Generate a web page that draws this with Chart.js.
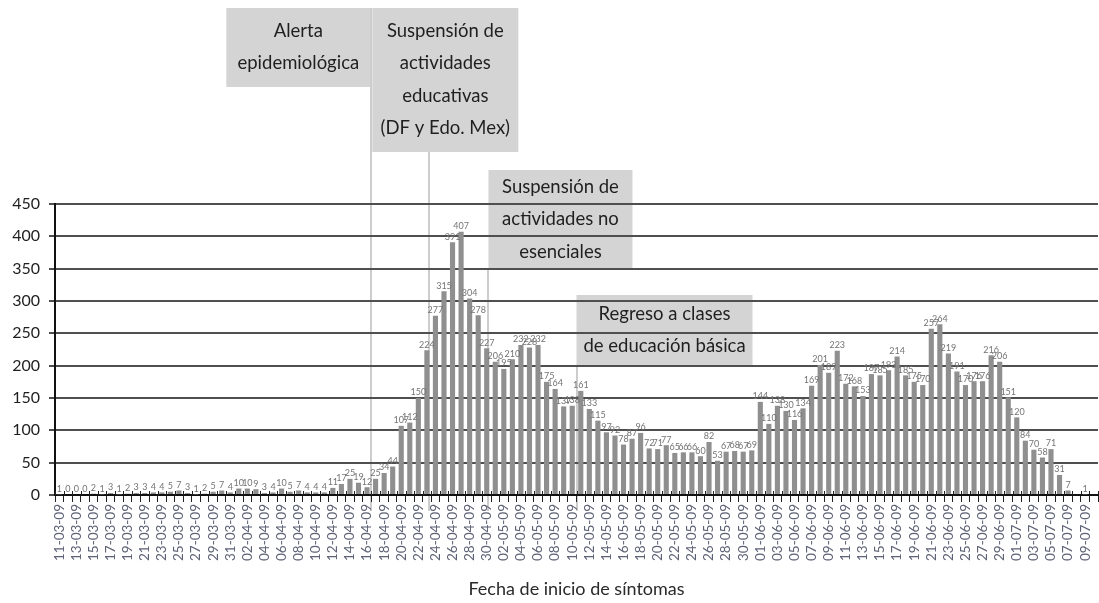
<!DOCTYPE html>
<html>
<head>
<meta charset="utf-8">
<script src="https://cdn.jsdelivr.net/npm/chart.js@4.4.1/dist/chart.umd.min.js"></script>
<style>
  html, body { margin: 0; padding: 0; background: #fff; }
  #wrap { width: 1099px; height: 603px; }
</style>
</head>
<body>
<div id="wrap"><canvas id="grafica"></canvas></div>
<script>
// Fecha de inicio de síntomas (una categoría por día)
const fechas = [
  '11-03-09','12-03-09','13-03-09','14-03-09','15-03-09','16-03-09','17-03-09','18-03-09','19-03-09','20-03-09',
  '21-03-09','22-03-09','23-03-09','24-03-09','25-03-09','26-03-09','27-03-09','28-03-09','29-03-09','30-03-09','31-03-09',
  '01-04-09','02-04-09','03-04-09','04-04-09','05-04-09','06-04-09','07-04-09','08-04-09','09-04-09','10-04-09',
  '11-04-09','12-04-09','13-04-09','14-04-09','15-04-09','16-04-09','17-04-09','18-04-09','19-04-09','20-04-09',
  '21-04-09','22-04-09','23-04-09','24-04-09','25-04-09','26-04-09','27-04-09','28-04-09','29-04-09','30-04-09',
  '01-05-09','02-05-09','03-05-09','04-05-09','05-05-09','06-05-09','07-05-09','08-05-09','09-05-09','10-05-09',
  '11-05-09','12-05-09','13-05-09','14-05-09','15-05-09','16-05-09','17-05-09','18-05-09','19-05-09','20-05-09',
  '21-05-09','22-05-09','23-05-09','24-05-09','25-05-09','26-05-09','27-05-09','28-05-09','29-05-09','30-05-09','31-05-09',
  '01-06-09','02-06-09','03-06-09','04-06-09','05-06-09','06-06-09','07-06-09','08-06-09','09-06-09','10-06-09',
  '11-06-09','12-06-09','13-06-09','14-06-09','15-06-09','16-06-09','17-06-09','18-06-09','19-06-09','20-06-09',
  '21-06-09','22-06-09','23-06-09','24-06-09','25-06-09','26-06-09','27-06-09','28-06-09','29-06-09','30-06-09',
  '01-07-09','02-07-09','03-07-09','04-07-09','05-07-09','06-07-09','07-07-09','08-07-09','09-07-09','10-07-09'
];

const casos = [
  1, 0, 0, 0, 2, 1, 3, 1, 2, 3, 3, 4, 4, 5, 7, 3, 1, 2, 5, 7, 4,
  10, 10, 9, 3, 4, 10, 5, 7, 4, 4, 4, 11, 17, 25, 19, 12, 25, 34, 44, 107,
  112, 150, 224, 277, 315, 391, 407, 304, 278, 227,
  206, 195, 210, 232, 228, 232, 175, 164, 137, 138,
  161, 133, 115, 97, 92, 78, 87, 96, 72, 71,
  77, 65, 66, 66, 60, 82, 53, 67, 68, 67, 69,
  144, 110, 138, 130, 116, 134, 169, 201, 189, 223,
  172, 168, 153, 187, 185, 193, 214, 185, 175, 170,
  257, 264, 219, 191, 170, 176, 176, 216, 206, 151,
  120, 84, 70, 58, 71, 31, 7, null, 1, null
];

const ejeY = { min: 0, max: 450, paso: 50 };

// Eventos marcados (posición en el eje de categorías)
const eventos = [
  { pos: 36.5, arriba: 8 },    // Alerta epidemiológica
  { pos: 43.2, arriba: 152 },  // Suspensión de actividades educativas
  { pos: 50.2, arriba: 268 },  // Suspensión de actividades no esenciales
  { pos: 60.5, arriba: 367 }   // Regreso a clases
];

const cuadros = [
  { ev: 0, dx: -145, ancho: 144, top: 8, alto: 79, lineas: ['Alerta', 'epidemiológica'], y0: 31 },
  { ev: 0, dx: 1, ancho: 146, top: 8, alto: 144, lineas: ['Suspensión de', 'actividades', 'educativas', '(DF y Edo. Mex)'], y0: 31 },
  { ev: 2, dx: 0, ancho: 144, top: 170, alto: 98, lineas: ['Suspensión de', 'actividades no', 'esenciales'], y0: 187 },
  { ev: 3, dx: 0, ancho: 176, top: 295, alto: 72, lineas: ['Regreso a clases', 'de educación básica'], y0: 314 }
];

Chart.defaults.font.family = 'Lato, "Open Sans", sans-serif';

const anotaciones = {
  id: 'anotaciones',
  beforeDraw(chart) {
    const ctx = chart.ctx;
    const xs = chart.scales.x;
    const base = chart.chartArea.bottom + 16;
    ctx.save();
    // cuadros grises
    cuadros.forEach(c => {
      const x0 = xs.getPixelForValue(eventos[c.ev].pos) + c.dx;
      ctx.fillStyle = '#d4d4d4';
      ctx.fillRect(x0, c.top, c.ancho, c.alto);
      ctx.fillStyle = '#1f1f1f';
      ctx.font = '18.5px Lato';
      ctx.textAlign = 'center';
      ctx.textBaseline = 'middle';
      c.lineas.forEach((t, k) => ctx.fillText(t, x0 + c.ancho / 2, c.y0 + k * 32.5));
    });
    // líneas verticales
    ctx.strokeStyle = '#cdcdcd';
    ctx.lineWidth = 2;
    eventos.forEach(e => {
      const x = Math.round(xs.getPixelForValue(e.pos));
      ctx.beginPath();
      ctx.moveTo(x, e.arriba);
      ctx.lineTo(x, base);
      ctx.stroke();
    });
    ctx.restore();
  }
};

const etiquetasValores = {
  id: 'etiquetasValores',
  afterDatasetsDraw(chart) {
    const ctx = chart.ctx;
    const meta = chart.getDatasetMeta(0);
    const xs = chart.scales.x;
    const yBase = chart.chartArea.bottom;
    ctx.save();
    // marcas cortas sobre el eje x
    ctx.strokeStyle = '#222';
    ctx.lineWidth = 1;
    for (let i = 0; i <= fechas.length; i++) {
      const x = Math.round(xs.getPixelForValue(i - 0.5)) + 0.5;
      ctx.beginPath();
      ctx.moveTo(x, yBase - 4);
      ctx.lineTo(x, yBase);
      ctx.stroke();
    }
    ctx.font = '9px Lato';
    ctx.fillStyle = '#747474';
    ctx.textAlign = 'center';
    ctx.textBaseline = 'bottom';
    meta.data.forEach((bar, i) => {
      if (casos[i] === null) return;
      ctx.fillText(String(casos[i]), bar.x, bar.y - 1);
    });
    ctx.restore();
  }
};

new Chart(document.getElementById('grafica'), {
  type: 'bar',
  data: {
    labels: fechas,
    datasets: [{
      data: casos,
      backgroundColor: '#8f8f8f',
      categoryPercentage: 1,
      barPercentage: 0.6
    }]
  },
  options: {
    responsive: true,
    maintainAspectRatio: false,
    animation: false,
    devicePixelRatio: 1,
    layout: { padding: { top: 204, right: 1, left: 0, bottom: 0 } },
    plugins: {
      legend: { display: false },
      tooltip: { enabled: false }
    },
    scales: {
      x: {
        offset: true,
        grid: { offset: true, drawOnChartArea: false, tickLength: 7, color: '#222', lineWidth: 1 },
        border: { color: '#111', width: 2 },
        ticks: {
          autoSkip: false,
          minRotation: 90,
          maxRotation: 90,
          padding: 2,
          color: '#5d6275',
          font: { size: 13.5 },
          callback: (v, i) => (i % 2 === 0 ? fechas[i] : '')
        },
        title: {
          display: true,
          text: 'Fecha de inicio de síntomas',
          color: '#2a2a2a',
          font: { size: 18 },
          padding: { top: 4, bottom: 3 }
        },
        afterFit(s) {
          s.height = 108;
          s.paddingLeft = 0;
          s.paddingRight = 0;
        }
      },
      y: {
        min: ejeY.min,
        max: ejeY.max,
        ticks: { stepSize: ejeY.paso, color: '#1f1f1f', font: { size: 16 }, padding: 9 },
        grid: { color: '#4f4f4f', lineWidth: 2, tickLength: 6 },
        border: { color: '#111', width: 2 },
        afterFit(s) { s.width = 55; }
      }
    }
  },
  plugins: [anotaciones, etiquetasValores]
});
</script>
</body>
</html>
